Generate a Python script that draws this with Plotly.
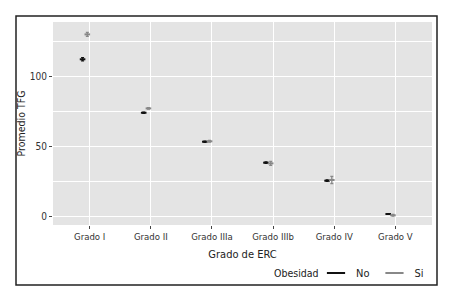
import plotly.graph_objects as go

categories = ["Grado I", "Grado II", "Grado IIIa", "Grado IIIb", "Grado IV", "Grado V"]
no_mean = [112.1, 74.1, 53.5, 38.6, 25.8, 2.1]
no_err = [1.2, 0.4, 0.4, 0.5, 0.5, 0.3]
si_mean = [129.8, 77.2, 53.8, 38.1, 26.3, 1.2]
si_err = [1.4, 0.6, 0.6, 1.4, 2.6, 0.6]

FONT = "Liberation Sans Narrow, DejaVu Sans Condensed, Arial Narrow, sans-serif"

fig = go.Figure()
for name, mean, err, color in [("No", no_mean, no_err, "#111111"), ("Si", si_mean, si_err, "#888888")]:
    fig.add_trace(go.Scatter(
        x=categories, y=mean, name=name, mode="markers", showlegend=False,
        marker=dict(symbol="line-ew-open", size=4, line=dict(width=2, color=color), color=color),
        error_y=dict(type="data", array=err, visible=True, color=color, thickness=1.3, width=1.5),
    ))
for name, color in [("No", "#111111"), ("Si", "#888888")]:
    fig.add_trace(go.Scatter(x=[None], y=[None], name=name, mode="markers",
                             marker=dict(symbol="line-ew-open", size=13, line=dict(width=2, color=color), color=color)))

# page body has an 8px default margin: work in window pixels, convert to figure pixels
OFF = 8
W, H = 455 - OFF, 292 - OFF
l, r, t, b = 53 - OFF, 23, 22 - OFF, 67
pw, ph = W - l - r, H - t - b
def px(x):
    return (x - OFF - l) / pw
def py(y):
    return (H - b - (y - OFF)) / ph

fig.add_shape(type="rect", xref="paper", yref="paper",
              x0=px(16), x1=px(437), y0=py(285), y1=py(16),
              line=dict(color="#222222", width=1.5), fillcolor="rgba(0,0,0,0)", layer="above")
fig.add_annotation(text="Obesidad", xref="paper", yref="paper", x=px(272), xanchor="left",
                   y=py(273), yanchor="middle", showarrow=False,
                   font=dict(size=10.5, color="#222222"))

fig.update_layout(
    width=W, height=H,
    margin=dict(l=l, r=r, t=t, b=b, autoexpand=False),
    paper_bgcolor="white", plot_bgcolor="#E4E4E4",
    scattermode="group", scattergap=0.69,
    font=dict(family=FONT, size=10, color="#222222"),
    showlegend=True,
    legend=dict(orientation="h", x=px(316), xanchor="left", y=py(273), yanchor="middle",
                font=dict(size=11, color="#222222"), bgcolor="rgba(0,0,0,0)",
                itemsizing="trace", tracegroupgap=0),
    xaxis=dict(type="category", range=[-0.6, 5.6], showgrid=True, gridcolor="white", gridwidth=1.2,
               ticks="outside", ticklen=3, tickcolor="#444444", zeroline=False,
               tickfont=dict(size=9.5, color="#333333"),
               title=dict(text="Grado de ERC", font=dict(size=11, color="#222222"), standoff=8)),
    yaxis=dict(range=[-5.7, 138.6], tickvals=[0, 50, 100], showgrid=True, gridcolor="white", gridwidth=1.2,
               ticks="outside", ticklen=3, tickcolor="#444444", zeroline=False,
               tickfont=dict(size=10, color="#333333"),
               minor=dict(tickvals=[25, 75, 125], showgrid=True, gridcolor="white", gridwidth=0.6, ticks=""),
               title=dict(text="Promedio TFG", font=dict(size=10.5, color="#222222"), standoff=2)),
)

fig.write_html("out.html")
